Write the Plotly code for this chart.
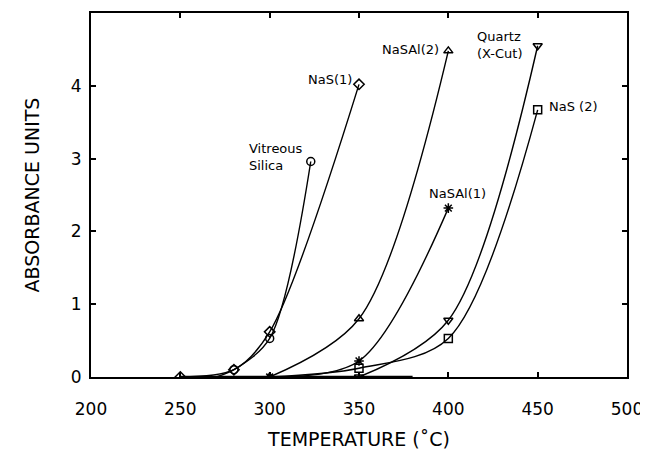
import plotly.graph_objects as go

# Temperature (°C) and absorbance for each sample
nas1_t = [250, 280, 300, 350]
nas1_a = [0.0, 0.1, 0.62, 4.02]

vit_t = [270, 280, 300, 323]
vit_a = [0.0, 0.1, 0.53, 2.96]

nasal2_t = [300, 350, 400]
nasal2_a = [0.0, 0.8, 4.48]

nasal1_t = [300, 350, 400]
nasal1_a = [0.0, 0.22, 2.32]

quartz_t = [350, 400, 450]
quartz_a = [0.0, 0.78, 4.55]

nas2_t = [300, 350, 400, 450]
nas2_a = [0.0, 0.12, 0.53, 3.67]

x_ticks = [200, 250, 300, 350, 400, 450, 500]
y_ticks = [0, 1, 2, 3, 4]

FONT = "DejaVu Sans"
fig = go.Figure()

series = [
    (nas1_t, nas1_a, "diamond-open", [250, 280, 300, 350]),
    (vit_t, vit_a, "circle-open", [280, 300, 323]),
    (nasal2_t, nasal2_a, "triangle-up-open", [300, 350, 400]),
    (nasal1_t, nasal1_a, "asterisk-open", [300, 350, 400]),
    (quartz_t, quartz_a, "triangle-down-open", [350, 400, 450]),
    (nas2_t, nas2_a, "square-open", [350, 400, 450]),
]

for t, a, sym, mark_t in series:
    fig.add_trace(go.Scatter(
        x=t, y=a, mode="lines",
        line=dict(color="black", width=1.4, shape="spline", smoothing=0.9),
        showlegend=False, hoverinfo="skip"))
    mx = [ti for ti in t if ti in mark_t]
    my = [ai for ti, ai in zip(t, a) if ti in mark_t]
    fig.add_trace(go.Scatter(
        x=mx, y=my, mode="markers",
        marker=dict(symbol=sym, size=8, color="black", line=dict(width=1.5, color="black")),
        showlegend=False))

# baseline
fig.add_trace(go.Scatter(x=[250, 380], y=[0, 0], mode="lines",
                         line=dict(color="black", width=2.5), showlegend=False))

ann = [
    (347, 4.08, "NaS(1)", "right"),
    (320, 3.02, "Vitreous<br>Silica", "right"),
    (396, 4.5, "NaSAl(2)", "right"),
    (443, 4.56, "Quartz<br>(X-Cut)", "right"),
    (455, 3.72, "NaS (2)", "left"),
    (422, 2.52, "NaSAl(1)", "right"),
]
for x, y, txt, anc in ann:
    fig.add_annotation(x=x, y=y, text=txt, showarrow=False, xanchor=anc,
                       yanchor="middle", align="left",
                       font=dict(family=FONT, size=13, color="black"))

axis_common = dict(showline=True, linecolor="black", linewidth=2, mirror="ticks",
                   ticks="inside", ticklen=5, tickwidth=1.5, tickcolor="black",
                   showgrid=False, zeroline=False,
                   tickfont=dict(family=FONT, size=17, color="black"))

fig.update_xaxes(range=[200, 500], tickvals=x_ticks, ticklabelstandoff=16,
                 title=dict(text="TEMPERATURE (˚C)", font=dict(family=FONT, size=19, color="black"), standoff=14),
                 **axis_common)
fig.update_yaxes(range=[0, 5], tickvals=y_ticks, ticklabelstandoff=4,
                 title=dict(text="ABSORBANCE UNITS", font=dict(family=FONT, size=19, color="black"), standoff=26),
                 **axis_common)

fig.update_layout(width=640, height=444, plot_bgcolor="white", paper_bgcolor="white",
                  margin=dict(l=83, r=21, t=3, b=75))

fig.write_html("out.html")
